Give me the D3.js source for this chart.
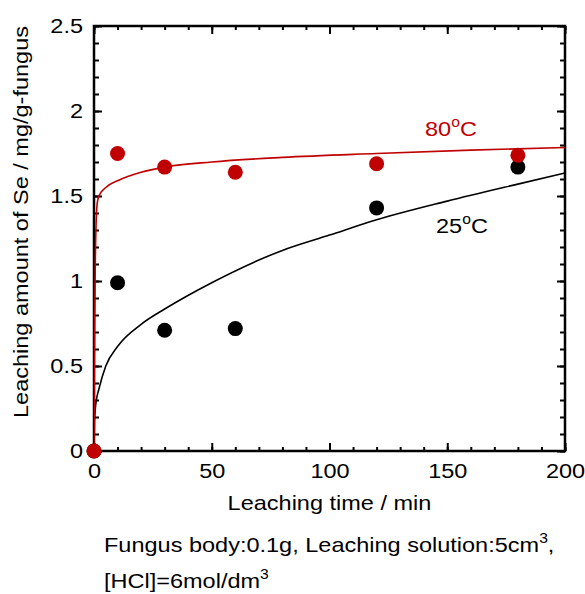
<!DOCTYPE html>
<html>
<head>
<meta charset="utf-8">
<script src="https://cdn.jsdelivr.net/npm/d3@7"></script>
<style>
  body { margin: 0; background: #fff; }
  svg { display: block; font-family: "Liberation Sans", Arial, sans-serif; }
</style>
</head>
<body>
<svg id="chart" width="585" height="594"></svg>
<script>
// measured points
var timeMin = [0, 10, 30, 60, 120, 180];
var se80 = [0, 1.75, 1.67, 1.64, 1.69, 1.74];
var se25 = [0, 0.99, 0.71, 0.72, 1.43, 1.67];

// fitted curves
var fit80Time = [0, 0.2, 0.5, 1, 1.5, 2.5, 5, 10, 20, 30, 50, 80, 120, 160, 200];
var fit80Val = [0, 0.55, 1.05, 1.38, 1.47, 1.51, 1.55, 1.59, 1.64, 1.67, 1.70, 1.727, 1.75, 1.77, 1.785];
var fit25Time = [0, 0.2, 0.5, 1, 2, 5, 10, 20, 30, 50, 80, 100, 120, 150, 180, 200];
var fit25Val = [0, 0.17, 0.24, 0.3, 0.36, 0.5, 0.615, 0.745, 0.835, 0.99, 1.18, 1.27, 1.36, 1.47, 1.57, 1.635];

var xTicks = [0, 50, 100, 150, 200];
var yTicks = [0, 0.5, 1, 1.5, 2, 2.5];

var red = '#c00000';
var wide = 1.12; // the original font runs a bit wider than Arial

var svg = d3.select('#chart');
var m = { left: 94, top: 26, right: 20, bottom: 143 };
var w = 585 - m.left - m.right, h = 594 - m.top - m.bottom;

var x = d3.scaleLinear().domain([0, 200]).range([0, w]);
var y = d3.scaleLinear().domain([0, 2.5]).range([h, 0]);

var g = svg.append('g').attr('transform', 'translate(' + m.left + ',' + m.top + ')');

g.append('clipPath').attr('id', 'clip')
  .append('rect').attr('width', w).attr('height', h);

function styleAxis(sel) {
  sel.select('.domain').remove();
  sel.selectAll('line').attr('stroke-width', 2);
  sel.selectAll('text').attr('font-size', 21).attr('fill', '#000');
}
function widen(sel) {
  sel.selectAll('text').each(function () {
    var t = d3.select(this);
    var tx = +t.attr('x') || 0;
    t.attr('x', 0).attr('transform', 'translate(' + tx + ',0) scale(' + wide + ',1)');
  });
}

// major + minor ticks, all pointing inward
var xMinor = d3.range(0, 201, 10), yMinor = d3.range(0, 26).map(function (d) { return d / 10; });
g.append('g').attr('transform', 'translate(0,' + h + ')')
  .call(d3.axisBottom(x).tickValues(xMinor).tickSize(-4).tickFormat('')).call(styleAxis);
g.append('g').attr('transform', 'translate(0,' + h + ')')
  .call(d3.axisBottom(x).tickValues(xTicks).tickSize(-8).tickPadding(12).tickFormat(d3.format('d')))
  .call(styleAxis).call(widen);
g.append('g').call(d3.axisTop(x).tickValues(xMinor).tickSize(-4).tickFormat('')).call(styleAxis);
g.append('g').call(d3.axisTop(x).tickValues(xTicks).tickSize(-8).tickFormat('')).call(styleAxis);

g.append('g').call(d3.axisLeft(y).tickValues(yMinor).tickSize(-5).tickFormat('')).call(styleAxis);
g.append('g')
  .call(d3.axisLeft(y).tickValues(yTicks).tickSize(-8).tickPadding(11).tickFormat(d3.format('')))
  .call(styleAxis).call(widen);
g.append('g').attr('transform', 'translate(' + w + ',0)')
  .call(d3.axisRight(y).tickValues(yMinor).tickSize(-5).tickFormat('')).call(styleAxis);
g.append('g').attr('transform', 'translate(' + w + ',0)')
  .call(d3.axisRight(y).tickValues(yTicks).tickSize(-8).tickFormat('')).call(styleAxis);

g.append('rect').attr('width', w).attr('height', h)
  .attr('fill', 'none').attr('stroke', '#000').attr('stroke-width', 2.5);

// curves
var line = d3.line().x(function (d) { return x(d[0]); }).y(function (d) { return y(d[1]); })
  .curve(d3.curveMonotoneX);
g.append('path').datum(d3.zip(fit25Time, fit25Val)).attr('d', line)
  .attr('fill', 'none').attr('stroke', '#000').attr('stroke-width', 1.6).attr('clip-path', 'url(#clip)');
g.append('path').datum(d3.zip(fit80Time, fit80Val)).attr('d', line)
  .attr('fill', 'none').attr('stroke', red).attr('stroke-width', 1.6).attr('clip-path', 'url(#clip)');

// points
g.selectAll('.p25').data(d3.zip(timeMin, se25)).join('circle').attr('class', 'p25')
  .attr('cx', function (d) { return x(d[0]); }).attr('cy', function (d) { return y(d[1]); })
  .attr('r', 7.5).attr('fill', '#000');
g.selectAll('.p80').data(d3.zip(timeMin, se80)).join('circle').attr('class', 'p80')
  .attr('cx', function (d) { return x(d[0]); }).attr('cy', function (d) { return y(d[1]); })
  .attr('r', 7.5).attr('fill', red);

// text helpers
function text(px, py, anchor, rotate) {
  var tr = 'translate(' + px + ',' + py + ')' + (rotate ? ' rotate(' + rotate + ')' : '') + ' scale(' + wide + ',1)';
  return svg.append('text').attr('transform', tr).attr('text-anchor', anchor)
    .attr('font-size', 21).attr('fill', '#000');
}
function degC(t, label) {
  t.append('tspan').text(label);
  t.append('tspan').attr('dy', -9).attr('font-size', 14).text('o');
  t.append('tspan').attr('dy', 9).text('C');
}

degC(text(425, 136, 'start').attr('fill', red), '80');
degC(text(436, 233, 'start'), '25');

text(m.left + w / 2, 510, 'middle').text('Leaching time / min');
text(28, 222, 'middle', -90).text('Leaching amount of Se / mg/g-fungus');

var cap1 = text(104, 552, 'start');
cap1.append('tspan').text('Fungus body:0.1g, Leaching solution:5cm');
cap1.append('tspan').attr('dy', -9).attr('font-size', 14).text('3');
cap1.append('tspan').attr('dy', 9).text(',');
var cap2 = text(104, 588, 'start');
cap2.append('tspan').text('[HCl]=6mol/dm');
cap2.append('tspan').attr('dy', -9).attr('font-size', 14).text('3');
</script>
</body>
</html>
